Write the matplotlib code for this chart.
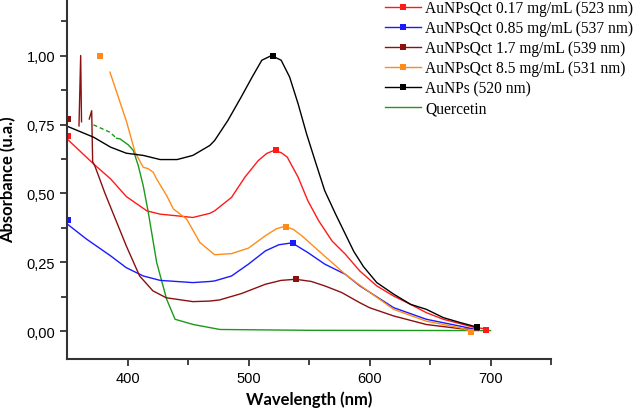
import numpy as np
import matplotlib
matplotlib.use("Agg")
import matplotlib.pyplot as plt
from matplotlib.lines import Line2D

# ---- data (wavelength in nm, absorbance in u.a.) ----
nan = np.nan

black_nm = [350, 372, 386, 399, 413, 427, 441, 454, 468, 472, 483, 494, 503, 511, 519,
            527, 534, 541, 548, 555, 563, 572, 580, 587, 595, 606, 620, 634, 647, 661, 675,
            686, 690]
black_abs = [0.744, 0.704, 0.668, 0.646, 0.638, 0.623, 0.623, 0.638, 0.674, 0.692, 0.765,
             0.850, 0.922, 0.983, 1.00, 0.983, 0.922, 0.825, 0.716, 0.619, 0.510, 0.425,
             0.353, 0.29, 0.235, 0.177, 0.135, 0.098, 0.080, 0.050, 0.032, 0.019, 0.016]
black_mark_nm = [520, 689]
black_mark_abs = [1.00, 0.016]

red_nm = [350, 372, 386, 399, 416, 427, 441, 454, 468, 472, 486, 497, 508, 515, 521, 527,
          532, 541, 549, 558, 569, 580, 592, 606, 620, 634, 647, 661, 675, 686, 698]
red_abs = [0.698, 0.607, 0.553, 0.489, 0.437, 0.425, 0.419, 0.413, 0.428, 0.437, 0.486,
           0.559, 0.619, 0.645, 0.656, 0.648, 0.632, 0.559, 0.474, 0.401, 0.328, 0.28,
           0.219, 0.165, 0.128, 0.098, 0.068, 0.044, 0.028, 0.015, 0.008]
red_mark_nm = [351, 523, 696]
red_mark_abs = [0.71, 0.656, 0.005]

blue_nm = [350, 366, 386, 399, 413, 427, 454, 468, 472, 486, 500, 514, 525, 536, 549, 563,
           580, 592, 620, 647, 675, 690]
blue_abs = [0.39, 0.335, 0.274, 0.231, 0.201, 0.185, 0.177, 0.181, 0.183, 0.201, 0.244,
            0.292, 0.314, 0.321, 0.286, 0.244, 0.207, 0.165, 0.086, 0.044, 0.019, 0.005]
blue_mark_nm = [351, 537]
blue_mark_abs = [0.405, 0.322]

darkred_nm = [359.9, 361.3, 362.0, nan, 368.4, 370.4, 371.2, 373, 377, 381, 385.5, 399, 410,
              421, 432, 454, 468, 476, 494, 514, 527, 539, 552, 563, 577, 592, 600, 620, 647,
              675, 690]
darkred_abs = [0.745, 1.00, 0.76, nan, 0.77, 0.80, 0.615, 0.60, 0.553, 0.505, 0.456, 0.31,
               0.201, 0.147, 0.122, 0.108, 0.110, 0.114, 0.137, 0.171, 0.185, 0.189, 0.181,
               0.165, 0.141, 0.104, 0.086, 0.056, 0.025, 0.010, 0.005]
darkred_mark_nm = [351, 539]
darkred_mark_abs = [0.77, 0.191]

orange_nm = [385.5, 399.3, 406.2, 413, 417, 421.3, 424, 432.4, 437.9, 448.9, 459.9, 472,
             486, 500, 514, 523, 530, 537, 544, 558, 572, 580, 589, 620, 647, 675, 684]
orange_abs = [0.94, 0.759, 0.65, 0.595, 0.59, 0.577, 0.553, 0.492, 0.444, 0.407, 0.322,
              0.278, 0.282, 0.302, 0.347, 0.372, 0.381, 0.370, 0.347, 0.292, 0.238, 0.207,
              0.177, 0.08, 0.037, 0.013, 0.0]
orange_mark_nm = [377, 531, 684]
orange_mark_abs = [1.00, 0.379, -0.003]

green_dash_nm = [371.8, 385.5, 391]
green_dash_abs = [0.749, 0.722, 0.70]
green_nm = [391, 393.8, 400.7, 404.8, 408.9, 413, 417.2, 424.1, 432.4, 439.3, 454.4,
            476.4, 550, 700]
green_abs = [0.70, 0.698, 0.676, 0.656, 0.601, 0.528, 0.431, 0.25, 0.116, 0.044, 0.025,
             0.007, 0.004, 0.003]

labels = ["AuNPsQct 0.17 mg/mL (523 nm)", "AuNPsQct 0.85 mg/mL (537 nm)",
          "AuNPsQct 1.7 mg/mL (539 nm)", "AuNPsQct 8.5 mg/mL (531 nm)",
          "AuNPs (520 nm)", "Quercetin"]
colors = ["#ff1a1a", "#1a1aff", "#8b1010", "#ff8c1a", "#000000", "#1a9a1a"]

fig = plt.figure(figsize=(6.42, 4.10), dpi=100)
ax = fig.add_axes([67 / 642, 50 / 410, 484 / 642, 360 / 410])

lw = 1.0
series = [
    (red_nm, red_abs, red_mark_nm, red_mark_abs, colors[0]),
    (blue_nm, blue_abs, blue_mark_nm, blue_mark_abs, colors[1]),
    (darkred_nm, darkred_abs, darkred_mark_nm, darkred_mark_abs, colors[2]),
    (orange_nm, orange_abs, orange_mark_nm, orange_mark_abs, colors[3]),
    (black_nm, black_abs, black_mark_nm, black_mark_abs, colors[4]),
]
ax.plot(green_nm, green_abs, color=colors[5], lw=lw)
ax.plot(green_dash_nm, green_dash_abs, color=colors[5], lw=lw, ls=(0, (3, 2)))
for x, y, mx, my, c in series:
    ax.plot(x, y, color=c, lw=lw)
    ax.plot(mx, my, ls="none", marker="s", ms=4.5, color=c, mew=0)

ax.set_xlim(350, 750)
ax.set_ylim(-0.10, 1.205)
ax.set_xticks([400, 500, 600, 700])
ax.set_xticks([450, 550, 650, 750], minor=True)
ax.set_yticks([0, 0.25, 0.5, 0.75, 1.0])
ax.set_yticks([0.125, 0.375, 0.625, 0.875, 1.125], minor=True)
ax.set_yticklabels([f"{v:.2f}".replace(".", ",") for v in [0, 0.25, 0.5, 0.75, 1.0]])

for side in ["top", "right"]:
    ax.spines[side].set_visible(False)
for side in ["left", "bottom"]:
    ax.spines[side].set_linewidth(1.5)
    ax.spines[side].set_color("#333333")
ax.tick_params(which="both", direction="out", color="#333333", width=1.3)
ax.tick_params(which="major", length=5)
ax.tick_params(which="minor", length=4)
for t in ax.get_xticklabels() + ax.get_yticklabels():
    t.set_fontfamily("Liberation Sans")
    t.set_fontsize(10.5)

ax.set_xlabel("Wavelength (nm)", family="Lato", weight="bold", fontsize=12, labelpad=4)
ax.set_ylabel("Absorbance (u.a.)", family="Lato", weight="bold", fontsize=12, labelpad=7)

handles = [Line2D([], [], color=c, lw=lw, marker="s", ms=4.5, mew=0) for c in colors[:5]]
handles.append(Line2D([], [], color=colors[5], lw=lw))
fig.legend(handles, labels, loc="upper left", bbox_to_anchor=(385 / 642, 0.997),
           frameon=False, prop={"family": "Liberation Serif", "size": 11.2},
           handlelength=2.3, handletextpad=0.3, labelspacing=0.26,
           borderpad=0, borderaxespad=0)

fig.savefig("out.png", dpi=100)
